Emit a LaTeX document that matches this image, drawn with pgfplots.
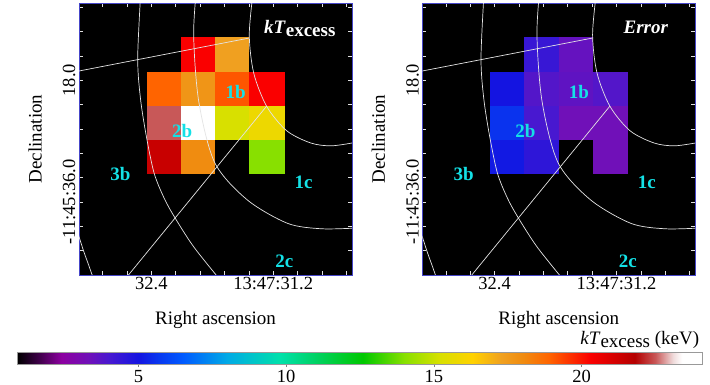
\documentclass[border=0pt]{standalone}
\usepackage{fontspec}
\setmainfont{Liberation Serif}
\usepackage{pgfplots}
\usepackage{pgfplotstable}
\pgfplotsset{compat=1.18}
\definecolor{frameblue}{RGB}{70,70,200}
\definecolor{labcyan}{RGB}{20,225,230}
\definecolor{contour}{RGB}{228,228,228}
\newcommand{\tfont}{\fontsize{18.5bp}{21bp}\selectfont}
\newcommand{\lfont}{\fontsize{19bp}{22bp}\selectfont}

\pgfplotsset{colormap={kt}{[1pt]
 rgb255(9pt)=(0,0,0)
 rgb255(16pt)=(60,0,70)
 rgb255(24pt)=(140,0,160)
 rgb255(33pt)=(112,16,184)
 rgb255(40pt)=(72,24,208)
 rgb255(50pt)=(20,20,225)
 rgb255(57pt)=(8,56,240)
 rgb255(65pt)=(0,90,255)
 rgb255(80pt)=(0,170,230)
 rgb255(98pt)=(0,225,170)
 rgb255(110pt)=(0,210,100)
 rgb255(126pt)=(0,200,0)
 rgb255(140pt)=(136,224,0)
 rgb255(152pt)=(216,224,0)
 rgb255(163pt)=(255,210,0)
 rgb255(173pt)=(240,160,32)
 rgb255(180pt)=(240,140,16)
 rgb255(189pt)=(255,100,0)
 rgb255(203pt)=(250,0,0)
 rgb255(214pt)=(200,0,0)
 rgb255(218pt)=(180,0,0)
 rgb255(225pt)=(200,88,88)
 rgb255(231pt)=(240,220,220)
 rgb255(234pt)=(255,255,255)
 rgb255(241pt)=(255,255,255)
}}

\pgfplotstableread{
x y c
2.5 3.5 21.4
3.5 3.5 18.0
4.5 3.5 0.9
5.5 3.5 14.0
2.5 4.5 22.5
3.5 4.5 24.1
4.5 4.5 15.2
5.5 4.5 15.8
2.5 5.5 18.9
3.5 5.5 17.7
4.5 5.5 19.1
5.5 5.5 20.3
2.5 6.5 0.9
3.5 6.5 20.3
4.5 6.5 17.3
5.5 6.5 0.9
}\ktdata

\pgfplotstableread{
x y c
2.5 3.5 5.1
3.5 3.5 4.5
4.5 3.5 0.9
5.5 3.5 3.3
2.5 4.5 5.6
3.5 4.5 4.0
4.5 4.5 3.3
5.5 4.5 3.3
2.5 5.5 5.0
3.5 5.5 3.8
4.5 5.5 3.6
5.5 5.5 3.8
2.5 6.5 0.9
3.5 6.5 4.3
4.5 6.5 3.5
5.5 6.5 0.9
}\errdata

\tikzset{
 cline/.style={draw=contour, line width=0.7bp},
 rlab/.style={text=labcyan, font=\bfseries\lfont},
}

\pgfplotsset{
 mapax/.style={
  scale only axis, width=273bp, height=272bp,
  xmin=0, xmax=8, ymin=0, ymax=8,
  axis background/.style={fill=black},
  axis line style={draw=frameblue, line width=0.8bp},
  tick style={draw=white!88!black, line width=0.6bp},
  major tick length=4bp, minor tick length=4bp,
  xtick={2.12,5.69}, xticklabels={32.4,13:47:31.2},
  minor xtick={0.692,1.406,2.834,3.548,4.262,4.976,6.404,7.118,7.832},
  ytick={2.15,5.73}, yticklabels={-11:45:36.0,18.0},
  minor ytick={0.718,1.434,2.866,3.582,4.298,5.014,6.446,7.162,7.878},
  tick label style={font=\tfont},
  xticklabel style={inner sep=2bp},
  yticklabel style={rotate=90, anchor=south},
  label style={font=\lfont},
  xlabel={Right ascension}, ylabel={Declination},
  xlabel style={at={(axis description cs:0.5,-0.165)}, anchor=center},
  ylabel style={at={(axis description cs:-0.161,0.5)}, anchor=center},
  colormap name=kt, point meta min=0.9, point meta max=24.1,
 },
 pix/.style={matrix plot*, mesh/cols=4, point meta=explicit},
}

\newcommand{\overlays}{%
 \addplot[cline, smooth] coordinates {(5.10,8.3) (4.99,7.06) (5.12,5.94) (5.50,4.96) (6.09,4.24) (6.80,3.88) (7.4,3.80) (8.1,3.9)};
 \addplot[cline, smooth] coordinates {(3.45,8.5) (3.36,7.06) (3.51,5.10) (3.98,3.30) (4.93,2.21) (6.11,1.52) (7.1,1.36) (8.1,1.38)};
 \addplot[cline, smooth] coordinates {(1.82,8.5) (1.72,6.4) (1.80,5.2) (1.97,4.1) (2.2,3.0) (2.5,2.25) (2.82,1.67) (3.36,0.83) (4.1,-0.1)};
 \addplot[cline, smooth] coordinates {(-0.1,1.45) (0.12,0.75) (0.28,0.3) (0.42,-0.1)};
 \addplot[cline] coordinates {(0,6.0) (4.99,6.97)};
 \addplot[cline] coordinates {(1.45,0) (5.50,4.97)};
 \node[rlab] at (axis cs:4.59,5.39) {1b};
 \node[rlab] at (axis cs:3.02,4.24) {2b};
 \node[rlab] at (axis cs:1.21,2.97) {3b};
 \node[rlab] at (axis cs:6.58,2.74) {1c};
 \node[rlab] at (axis cs:6.02,0.39) {2c};
}

\begin{document}
\begin{tikzpicture}
\useasboundingbox (0,0) rectangle (710bp,385bp);
\begin{axis}[mapax, at={(79bp,110bp)}, anchor=south west]
\addplot[pix] table[meta=c] {\ktdata};
\overlays
\node[text=white, font=\bfseries\lfont] at (axis cs:6.47,7.24) {\textit{kT}\raisebox{-3bp}{excess}};
\end{axis}
\begin{axis}[mapax, at={(422.3bp,110bp)}, anchor=south west]
\addplot[pix] table[meta=c] {\errdata};
\overlays
\node[text=white, font=\bfseries\lfont] at (axis cs:6.55,7.28) {\textit{Error}};
\end{axis}
\begin{axis}[at={(17.3bp,29bp)}, anchor=south west, scale only axis, width=685.4bp, height=12bp,
  hide axis, xmin=0, xmax=1, ymin=0, ymax=1,
  colormap name=kt, point meta min=0.9, point meta max=24.1,
  colorbar horizontal,
  colorbar style={at={(parent axis.south west)}, anchor=south west, scale only axis,
    width=685.4bp, height=12bp, xtick={5,10,15,20}, xtick pos=left, xticklabel pos=left,
    tick align=outside, major tick length=2.5bp, tick style={draw=gray, line width=0.5bp},
    axis line style={draw=gray!80, line width=0.5bp},
    xticklabel={\fontsize{18.5bp}{21bp}\selectfont\pgfmathprintnumber[assume math mode=true]{\tick}},
    xticklabel style={inner sep=0pt, yshift=-3bp}}]
\addplot[draw=none] coordinates {(0,0)};
\end{axis}
\node[anchor=base east, font=\lfont] at (702.7bp,40.5bp) {\textit{kT}\raisebox{-3bp}{excess} (keV)};
\end{tikzpicture}
\end{document}
